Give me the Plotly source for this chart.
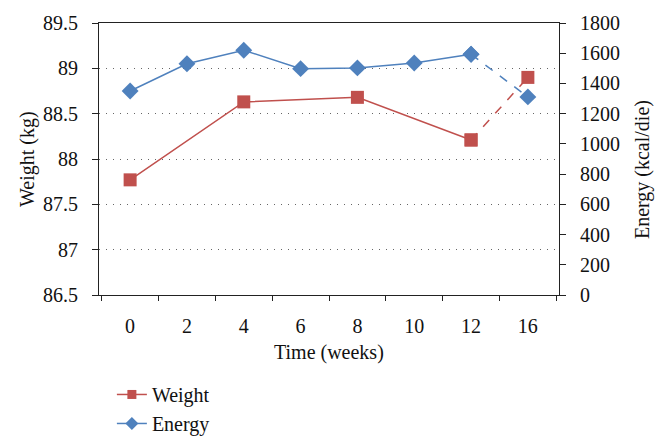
import plotly.graph_objects as go

weeks = ["0", "2", "4", "6", "8", "10", "12", "16"]
weight_weeks = ["0", "4", "8", "12", "16"]
weight = [87.77, 88.63, 88.68, 88.21, 88.90]
energy = [1350, 1530, 1620, 1498, 1503, 1535, 1593, 1311]

RED = "#C0504D"
BLUE = "#4F81BD"
FONT = "Liberation Serif"
FS = 20

fig = go.Figure()
# Weight solid part (weeks 0..12), dashed to week 16
fig.add_trace(go.Scatter(x=weight_weeks[:-1], y=weight[:-1], mode="lines+markers",
                         showlegend=False, line=dict(color=RED, width=1.5),
                         marker=dict(symbol="square", size=13, color=RED), yaxis="y"))
fig.add_trace(go.Scatter(x=weight_weeks[-2:], y=weight[-2:], mode="lines+markers",
                         showlegend=False, line=dict(color=RED, width=1.5, dash="dash"),
                         marker=dict(symbol="square", size=13, color=RED), yaxis="y"))
# Energy solid part, dashed to week 16
fig.add_trace(go.Scatter(x=weeks[:-1], y=energy[:-1], mode="lines+markers",
                         showlegend=False, line=dict(color=BLUE, width=1.5),
                         marker=dict(symbol="diamond", size=13, color=BLUE), yaxis="y2"))
fig.add_trace(go.Scatter(x=weeks[-2:], y=energy[-2:], mode="lines+markers",
                         showlegend=False, line=dict(color=BLUE, width=1.5, dash="dash"),
                         marker=dict(symbol="diamond", size=13, color=BLUE), yaxis="y2"))
# legend entries
fig.add_trace(go.Scatter(x=[None], y=[None], mode="lines+markers", name="Weight",
                         line=dict(color=RED, width=1.5),
                         marker=dict(symbol="square", size=9, color=RED)))
fig.add_trace(go.Scatter(x=[None], y=[None], mode="lines+markers", name="Energy",
                         line=dict(color=BLUE, width=1.5),
                         marker=dict(symbol="diamond", size=10, color=BLUE)))

fig.update_layout(
    width=657, height=439,
    margin=dict(l=91, r=106, t=15, b=152, autoexpand=False),
    paper_bgcolor="white", plot_bgcolor="white",
    font=dict(family=FONT, size=FS, color="#111"),
    xaxis=dict(type="category", categoryorder="array", categoryarray=weeks,
               automargin=False,
               showline=True, linecolor="#222", linewidth=1.2, mirror=True,
               ticks="outside", tickson="boundaries", ticklen=5, tickcolor="#222",
               ticklabelstandoff=13,
               showgrid=False),
    yaxis=dict(range=[86.5, 89.5], dtick=0.5, tick0=86.5,
               automargin=False,
               showline=True, linecolor="#222", linewidth=1.2,
               ticks="outside", ticklen=6, tickcolor="#222",
               ticklabelstandoff=10,
               showgrid=True, gridcolor="#666", griddash="1px,6px", gridwidth=1,
               zeroline=False),
    yaxis2=dict(range=[0, 1800], dtick=200, overlaying="y", side="right",
                automargin=False,
                showline=True, linecolor="#222", linewidth=1.2,
                ticks="outside", ticklen=6, tickcolor="#222",
                ticklabelstandoff=10,
                showgrid=False, zeroline=False),
    legend=dict(x=0.028, y=-0.294, xanchor="left", yanchor="top",
                font=dict(size=FS), tracegroupgap=0, itemwidth=30,
                bgcolor="rgba(0,0,0,0)"),
    annotations=[
        dict(text="Time (weeks)", xref="paper", yref="paper", x=0.5, y=-0.213,
             xanchor="center", yanchor="middle", showarrow=False,
             font=dict(size=FS)),
        dict(text="Weight (kg)", xref="paper", yref="paper", x=-0.1565, y=0.5,
             xanchor="center", yanchor="middle", textangle=-90, showarrow=False,
             font=dict(size=FS)),
        dict(text="Energy (kcal/die)", xref="paper", yref="paper", x=1.183, y=0.46,
             xanchor="center", yanchor="middle", textangle=-90, showarrow=False,
             font=dict(size=FS)),
    ],
)

fig.write_html("out.html")
